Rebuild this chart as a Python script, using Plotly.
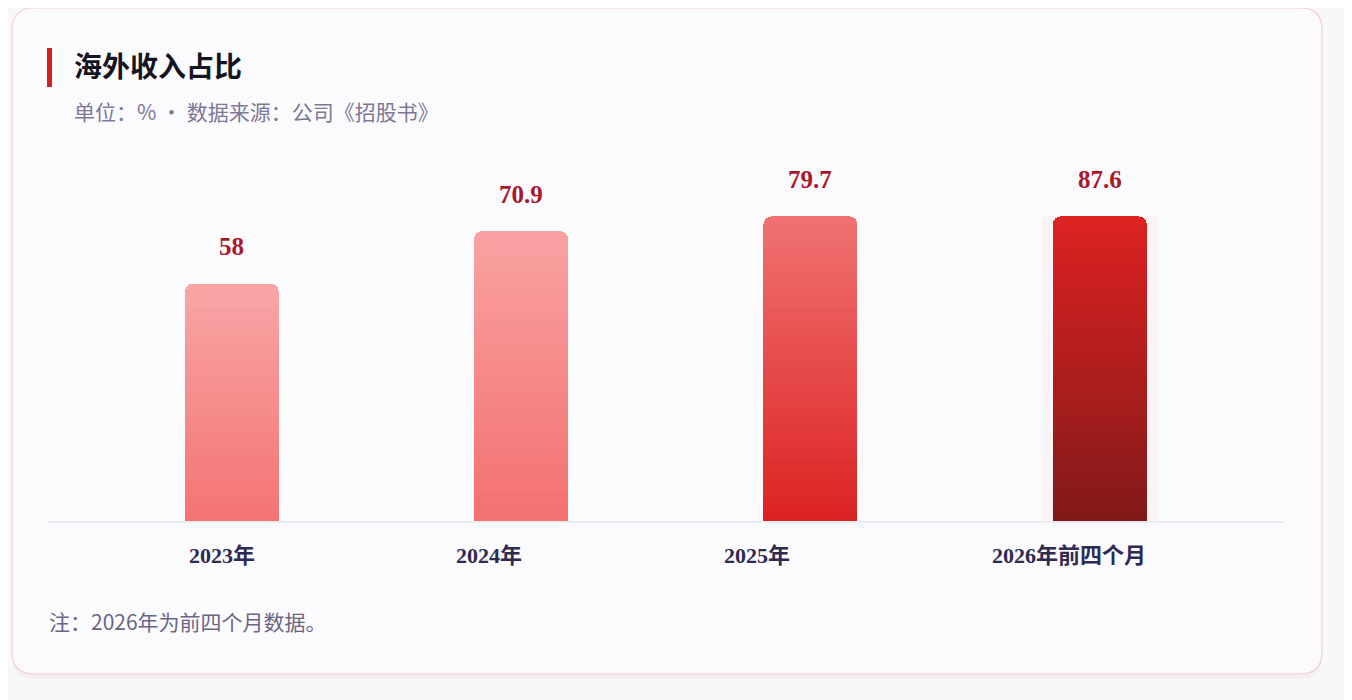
import plotly.graph_objects as go

CATEGORIES = ["2023年", "2024年", "2025年", "2026年前四个月"]
VALUES = [58, 70.9, 79.7, 87.6]
TOP_COLORS = ["#f9a6a6", "#f9a2a2", "#f07272", "#de2222"]
BOTTOM_COLORS = ["#f47373", "#f47070", "#dc2222", "#7e1818"]
GLOW = [False, False, False, True]

TITLE = "海外收入占比"
SUBTITLE = "单位：% · 数据来源：公司《招股书》"
NOTE = "注：2026年为前四个月数据。"

# the reference axis stops near 75, taller bars are cut flat at the top
Y_MAX = 74.6
N_SEG = 40

OFF = 8
W, H = 1352 - OFF, 700 - OFF
L, R, T, B = 48 - OFF, 1285 - OFF, 216 - OFF, 521 - OFF

# category labels sit left-aligned on their own even grid, not under the bars
LABEL_X0, LABEL_STEP, LABEL_Y = 186.5, 267.7, 555


def px(x):
    return (x - OFF - L) / (R - L)


def py(y):
    return (B - (y - OFF)) / (B - T)


def hex_rgb(c):
    c = c.lstrip("#")
    return tuple(int(c[i:i + 2], 16) for i in (0, 2, 4))


def mix(c0, c1, t):
    a, b = hex_rgb(c0), hex_rgb(c1)
    return "rgb({},{},{})".format(*[round(a[i] + (b[i] - a[i]) * t) for i in range(3)])


def rounded_path(x0, y0, x1, y1, r):
    pts = [
        ("M", [(x0 + r, y0)]),
        ("L", [(x1 - r, y0)]),
        ("Q", [(x1, y0), (x1, y0 + r)]),
        ("L", [(x1, y1 - r)]),
        ("Q", [(x1, y1), (x1 - r, y1)]),
        ("L", [(x0 + r, y1)]),
        ("Q", [(x0, y1), (x0, y1 - r)]),
        ("L", [(x0, y0 + r)]),
        ("Q", [(x0, y0), (x0 + r, y0)]),
    ]
    out = []
    for cmd, coords in pts:
        out.append(cmd + " " + " ".join(f"{px(a):.5f},{py(b):.5f}" for a, b in coords))
    return " ".join(out) + " Z"


shown = [min(v, Y_MAX - 0.1) for v in VALUES]

fig = go.Figure()

# soft glow behind the highlighted bar, on a second y axis so it does not stack
for w in (0.40, 0.385, 0.37, 0.355, 0.342):
    fig.add_trace(go.Bar(
        x=CATEGORIES,
        y=[s if g else None for s, g in zip(shown, GLOW)],
        width=w, yaxis="y2",
        marker=dict(color="rgba(232,70,70,0.035)", line_width=0, cornerradius=12),
        hoverinfo="skip", showlegend=False,
    ))

for i in range(N_SEG):
    t = (i + 0.5) / N_SEG
    fig.add_trace(go.Bar(
        x=CATEGORIES,
        y=[s / N_SEG for s in shown],
        marker=dict(
            color=[mix(b, tp, t) for b, tp in zip(BOTTOM_COLORS, TOP_COLORS)],
            line_width=0,
        ),
        hoverinfo="skip",
        showlegend=False,
    ))

for cat, v, s in zip(CATEGORIES, VALUES, shown):
    fig.add_annotation(
        x=cat, y=s, text=f"<b>{v:g}</b>", showarrow=False,
        yanchor="middle", yshift=37,
        font=dict(family="Liberation Serif, Noto Sans CJK SC", size=25, color="#a8182a"),
    )

for i, cat in enumerate(CATEGORIES):
    fig.add_annotation(
        xref="paper", yref="paper", x=px(LABEL_X0 + LABEL_STEP * i), y=py(LABEL_Y),
        xanchor="left", yanchor="middle", showarrow=False, text=f"<b>{cat}</b>",
        font=dict(family="Liberation Serif, Noto Sans CJK SC", size=22, color="#2e2a50"),
    )

shapes = [
    dict(type="path", xref="paper", yref="paper", layer="below",
         path=rounded_path(12, 11, 1322, 679, 22),
         fillcolor="rgba(235,200,205,0.18)", line_width=0),
    dict(type="path", xref="paper", yref="paper", layer="below",
         path=rounded_path(12, 8, 1322, 674, 22),
         fillcolor="#fbfbfd", line=dict(color="#f2cfcf", width=1.2)),
    dict(type="rect", xref="paper", yref="paper", layer="above",
         x0=px(47), x1=px(52), y0=py(48), y1=py(87),
         fillcolor="#d42020", line_width=0),
]

fig.add_annotation(xref="paper", yref="paper", x=px(72), y=py(65), xanchor="left",
                   yanchor="middle", showarrow=False, text=f"<b>{TITLE}</b>",
                   font=dict(family="Noto Sans CJK SC", size=28, color="#15151f"))
fig.add_annotation(xref="paper", yref="paper", x=px(72), y=py(111), xanchor="left",
                   yanchor="middle", showarrow=False, text=SUBTITLE,
                   font=dict(family="Noto Sans CJK SC", size=21, color="#7c7896"))
fig.add_annotation(xref="paper", yref="paper", x=px(47), y=py(621), xanchor="left",
                   yanchor="middle", showarrow=False, text=NOTE,
                   font=dict(family="Noto Sans CJK SC", size=21, color="#6a6585"))

fig.update_layout(
    width=W, height=H,
    margin=dict(l=L, r=W - R, t=T, b=H - B),
    paper_bgcolor="#f8f8fa",
    plot_bgcolor="rgba(0,0,0,0)",
    barmode="stack",
    bargap=0.675,
    barcornerradius=8,
    shapes=shapes,
    showlegend=False,
    xaxis=dict(
        type="category", range=[-0.635, 3.64], showgrid=False,
        showline=True, linecolor="#ebebf0", linewidth=1.5,
        ticks="", showticklabels=False,
    ),
    yaxis=dict(range=[0, Y_MAX], visible=False, fixedrange=True),
    yaxis2=dict(range=[0, Y_MAX], visible=False, overlaying="y", fixedrange=True),
)

fig.write_html("out.html")
